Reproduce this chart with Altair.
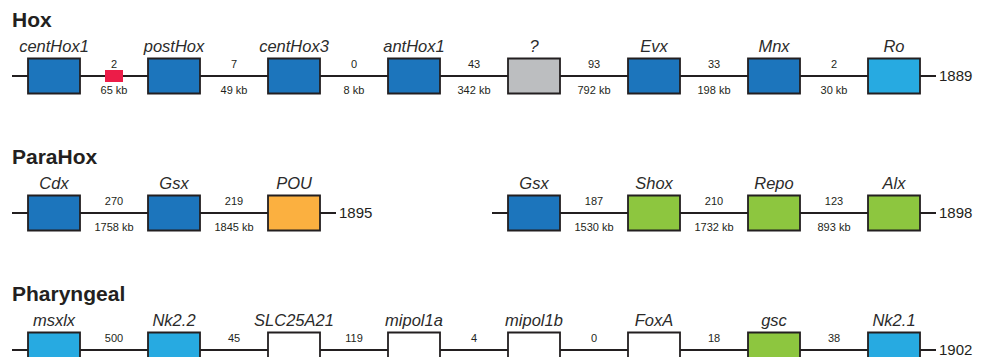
import altair as alt
import pandas as pd

# ---------------- data ----------------
row_titles = ["Hox", "ParaHox", "Pharyngeal"]

hox_genes = ["centHox1", "postHox", "centHox3", "antHox1", "?", "Evx", "Mnx", "Ro"]
hox_colors = ["dark", "dark", "dark", "dark", "gray", "dark", "dark", "light"]
hox_counts = [2, 7, 0, 43, 93, 33, 2]
hox_kb = [65, 49, 8, 342, 792, 198, 30]
hox_end = 1889

parahoxA_genes = ["Cdx", "Gsx", "POU"]
parahoxA_colors = ["dark", "dark", "orange"]
parahoxA_counts = [270, 219]
parahoxA_kb = [1758, 1845]
parahoxA_end = 1895

parahoxB_genes = ["Gsx", "Shox", "Repo", "Alx"]
parahoxB_colors = ["dark", "green", "green", "green"]
parahoxB_counts = [187, 210, 123]
parahoxB_kb = [1530, 1732, 893]
parahoxB_end = 1898

phar_genes = ["msxlx", "Nk2.2", "SLC25A21", "mipol1a", "mipol1b", "FoxA", "gsc", "Nk2.1"]
phar_colors = ["light", "light", "white", "white", "white", "white", "green", "light"]
phar_counts = [500, 45, 119, 4, 0, 18, 38]
phar_end = 1902

# small red marker lies in the first Hox gap
marker_row = 0
marker_gap = 0

color_domain = ["dark", "light", "gray", "orange", "green", "white", "red"]
color_range = ["#1C75BC", "#27AAE1", "#BCBEC0", "#FBB040", "#8DC63F", "#FFFFFF", "#EC1C48"]

segments = [
    dict(row=0, start=0, genes=hox_genes, colors=hox_colors, counts=hox_counts, kb=hox_kb, end=hox_end),
    dict(row=1, start=0, genes=parahoxA_genes, colors=parahoxA_colors, counts=parahoxA_counts, kb=parahoxA_kb, end=parahoxA_end),
    dict(row=1, start=4, genes=parahoxB_genes, colors=parahoxB_colors, counts=parahoxB_counts, kb=parahoxB_kb, end=parahoxB_end),
    dict(row=2, start=0, genes=phar_genes, colors=phar_colors, counts=phar_counts, kb=None, end=phar_end),
]

# ---------------- geometry (style constants) ----------------
W, H = 966, 341
SLOT_PX = 120.0
ROW_PX = 137.0
PX = 1 / SLOT_PX
VPX = 1 / ROW_PX
BW = 52 * PX           # box width in slots
HH = 17.5 * VPX        # half box height in rows
LEAD = 16 * PX         # line overhang
X0 = -20 * PX
Y0 = -68 * VPX

boxes, gaps, lines, ends = [], [], [], []
for s in segments:
    r, st = s["row"], s["start"]
    for i, (g, c) in enumerate(zip(s["genes"], s["colors"])):
        slot = st + i
        boxes.append(dict(x=slot, x2=slot + BW, xc=slot + BW / 2, row=r, y=r - HH, y2=r + HH, name=g, color=c))
    for i, cnt in enumerate(s["counts"]):
        xc = st + i + BW + (1 - BW) / 2
        kb = f"{s['kb'][i]} kb" if s["kb"] else ""
        gaps.append(dict(xc=xc, y=r, count=str(cnt), kb=kb))
    x1 = st - LEAD
    x2 = st + len(s["genes"]) - 1 + BW + LEAD
    lines.append(dict(x=x1, x2=x2, y=r))
    ends.append(dict(x=x2, y=r, label=str(s["end"])))

gx = marker_gap + BW + (1 - BW) / 2
marker = [dict(x=gx - 9 * PX, x2=gx + 9 * PX, y=marker_row - 6 * VPX, y2=marker_row + 6 * VPX, color="red")]
titles = [dict(x=-LEAD, y=i, label=t) for i, t in enumerate(row_titles)]

xs = alt.Scale(domain=[X0, X0 + W * PX], nice=False, zero=False)
ys = alt.Scale(domain=[Y0, Y0 + H * VPX], nice=False, zero=False, reverse=True)
cs = alt.Scale(domain=color_domain, range=color_range)

FONT = "Liberation Sans"
TXT = "#231F20"

line_layer = alt.Chart(pd.DataFrame(lines)).mark_rule(color=TXT, strokeWidth=1.8).encode(
    x=alt.X("x:Q", scale=xs, axis=None), x2="x2:Q", y=alt.Y("y:Q", scale=ys, axis=None))

box_layer = alt.Chart(pd.DataFrame(boxes)).mark_rect(stroke=TXT, strokeWidth=1.8).encode(
    x=alt.X("x:Q", scale=xs, axis=None), x2="x2:Q",
    y=alt.Y("y:Q", scale=ys, axis=None), y2="y2:Q",
    color=alt.Color("color:N", scale=cs, legend=None))

marker_layer = alt.Chart(pd.DataFrame(marker)).mark_rect().encode(
    x=alt.X("x:Q", scale=xs, axis=None), x2="x2:Q",
    y=alt.Y("y:Q", scale=ys, axis=None), y2="y2:Q",
    color=alt.Color("color:N", scale=cs, legend=None))

name_layer = alt.Chart(pd.DataFrame(boxes)).mark_text(
    font=FONT, fontSize=16.5, fontStyle="italic", color="#2b2b2b", align="center",
    baseline="alphabetic", dy=-24).encode(
    x=alt.X("xc:Q", scale=xs, axis=None), y=alt.Y("row:Q", scale=ys, axis=None), text="name:N")

gdf = pd.DataFrame(gaps)
count_layer = alt.Chart(gdf).mark_text(
    font=FONT, fontSize=11, color=TXT, align="center", baseline="alphabetic", dy=-8).encode(
    x=alt.X("xc:Q", scale=xs, axis=None), y=alt.Y("y:Q", scale=ys, axis=None), text="count:N")

kb_layer = alt.Chart(gdf).mark_text(
    font=FONT, fontSize=11, color=TXT, align="center", baseline="alphabetic", dy=17.5).encode(
    x=alt.X("xc:Q", scale=xs, axis=None), y=alt.Y("y:Q", scale=ys, axis=None), text="kb:N")

end_layer = alt.Chart(pd.DataFrame(ends)).mark_text(
    font=FONT, fontSize=15, color=TXT, align="left", baseline="middle", dx=3).encode(
    x=alt.X("x:Q", scale=xs, axis=None), y=alt.Y("y:Q", scale=ys, axis=None), text="label:N")

title_layer = alt.Chart(pd.DataFrame(titles)).mark_text(
    font=FONT, fontSize=21, fontWeight="bold", color=TXT, align="left", baseline="alphabetic", dy=-49).encode(
    x=alt.X("x:Q", scale=xs, axis=None), y=alt.Y("y:Q", scale=ys, axis=None), text="label:N")

chart = alt.layer(line_layer, box_layer, marker_layer, name_layer, count_layer, kb_layer,
                  end_layer, title_layer).properties(
    width=W, height=H,
    padding={"left": 0, "top": 0, "right": 0, "bottom": 8},
    autosize=alt.AutoSizeParams(type="none"), background="white"
).configure_view(stroke=None)

chart.save("out.html", embed_options={"renderer": "svg", "actions": False})
